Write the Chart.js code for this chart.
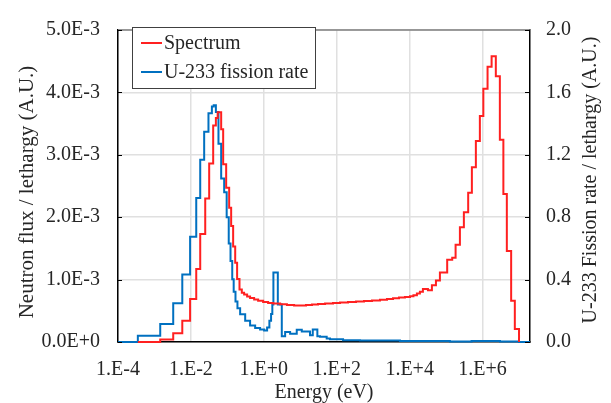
<!DOCTYPE html>
<html>
<head>
<meta charset="utf-8">
<script src="https://cdn.jsdelivr.net/npm/chart.js@4.4.1/dist/chart.umd.min.js"></script>
<style>
  html, body { margin: 0; padding: 0; background: #fff; }
  canvas { display: block; }
</style>
</head>
<body>
<canvas id="chart" width="611" height="403"></canvas>
<script>
// energy bin lower edges (eV) and neutron flux per lethargy
const spectrumEnergy = [
  3.5e-4, 1.44e-3, 3.27e-3, 5.8e-3, 9.5e-3, 1.4e-2, 1.8e-2, 2.47e-2, 3.17e-2, 4.08e-2,
  4.84e-2, 5.42e-2, 6.76e-2, 7.67e-2, 9.27e-2, 0.112, 0.127, 0.144, 0.164, 0.185,
  0.215, 0.249, 0.288, 0.348, 0.42, 0.542, 0.698, 0.957, 1.31, 1.8,
  2.8, 4.3, 6.76, 9.9, 14.4, 21, 30.7, 47.8, 79, 123,
  204, 338, 560, 927, 1535, 2388, 3500, 5090, 7430, 1.02e4,
  1.27e4, 1.58e4, 1.91e4, 2.31e4, 3.17e4, 4.08e4, 5.26e4, 6.76e4, 1.07e5, 1.47e5,
  1.82e5, 2.39e5, 3.07e5, 4.03e5, 5.09e5, 6.55e5, 8.43e5, 1.05e6, 1.37e6, 1.77e6,
  2.31e6, 2.98e6, 3.72e6, 4.63e6, 6.08e6, 7.67e6, 1.0e7
];
const spectrumFlux = [
  0, 0.04e-3, 0.14e-3, 0.34e-3, 0.69e-3, 1.17e-3, 1.73e-3, 2.30e-3, 2.86e-3, 3.47e-3,
  3.59e-3, 3.68e-3, 3.41e-3, 2.85e-3, 2.47e-3, 2.15e-3, 1.86e-3, 1.53e-3, 1.27e-3, 1.01e-3,
  0.84e-3, 0.79e-3, 0.76e-3, 0.73e-3, 0.705e-3, 0.68e-3, 0.66e-3, 0.642e-3, 0.627e-3, 0.615e-3,
  0.604e-3, 0.593e-3, 0.585e-3, 0.584e-3, 0.591e-3, 0.600e-3, 0.608e-3, 0.616e-3, 0.627e-3, 0.635e-3,
  0.642e-3, 0.650e-3, 0.658e-3, 0.666e-3, 0.678e-3, 0.689e-3, 0.700e-3, 0.712e-3, 0.723e-3, 0.735e-3,
  0.751e-3, 0.779e-3, 0.805e-3, 0.851e-3, 0.831e-3, 0.909e-3, 0.986e-3, 1.115e-3, 1.32e-3, 1.35e-3,
  1.56e-3, 1.84e-3, 2.08e-3, 2.39e-3, 2.80e-3, 3.22e-3, 3.62e-3, 4.06e-3, 4.41e-3, 4.58e-3,
  4.26e-3, 3.24e-3, 2.37e-3, 1.46e-3, 0.66e-3, 0.21e-3, 0
];

// energy bin lower edges (eV) and U-233 fission rate per lethargy
const fissionEnergy = [
  1e-4, 3.5e-4, 1.44e-3, 3.27e-3, 5.8e-3, 9.5e-3, 1.4e-2, 1.8e-2, 2.31e-2, 3.03e-2,
  3.76e-2, 4.22e-2, 4.84e-2, 5.70e-2, 6.76e-2, 8.17e-2, 9.57e-2, 0.109, 0.122, 0.136,
  0.149, 0.167, 0.189, 0.224, 0.308, 0.42, 0.578, 0.79, 1.02, 1.23,
  1.42, 1.58, 1.71, 1.83, 2.42, 3.11, 3.84, 5.26, 8.0, 11.0,
  18.5, 22, 29.4, 34.8, 53, 65.5, 149, 435, 5420, 1.27e5,
  5e5, 3e6, 1e7, 2e7
];
const fissionRate = [
  0, 0.040, 0.116, 0.248, 0.433, 0.675, 0.923, 1.168, 1.348, 1.467,
  1.509, 1.517, 1.474, 1.271, 1.048, 0.960, 0.799, 0.632, 0.520, 0.402,
  0.322, 0.260, 0.217, 0.178, 0.136, 0.105, 0.090, 0.080, 0.074, 0.093,
  0.136, 0.180, 0.240, 0.446, 0.240, 0.037, 0.064, 0.053, 0.079, 0.068,
  0.043, 0.080, 0.037, 0.033, 0.023, 0.017, 0.012, 0.009, 0.006, 0.004,
  0.006, 0.003, 0, 0
];

const energyTicks = [1e-4, 1e-2, 1e0, 1e2, 1e4, 1e6];
const fluxTicks = [0, 1e-3, 2e-3, 3e-3, 4e-3, 5e-3];
const rateTicks = [0, 0.4, 0.8, 1.2, 1.6, 2.0];

const fluxTitle = 'Neutron flux / lethargy (A.U.)';
const rateTitle = 'U-233 Fission rate / lethargy (A.U.)';

const toPoints = (xs, ys) => xs.map((x, i) => ({ x: x, y: ys[i] }));

const GRID = '#e0e0e0';
const TEXT = '#262626';
const FONT = '"Liberation Serif", "Times New Roman", serif';

Chart.defaults.font.family = FONT;
Chart.defaults.font.size = 20;
Chart.defaults.color = TEXT;

// frame top, inward tick marks, vertical axis titles and the boxed legend
const frameAndLegend = {
    id: 'frameAndLegend',
    afterDraw(chart) {
        const { ctx, chartArea } = chart;
        const y = chart.scales.y;
        ctx.save();
        ctx.strokeStyle = '#7f7f7f';
        ctx.lineWidth = 1.5;
        ctx.beginPath();
        ctx.moveTo(chartArea.left, chartArea.top);
        ctx.lineTo(chartArea.right, chartArea.top);
        ctx.stroke();

        ctx.strokeStyle = '#000';
        ctx.lineWidth = 1.2;
        fluxTicks.forEach(v => {
            const py = Math.round(y.getPixelForValue(v)) + 0.5;
            ctx.beginPath();
            ctx.moveTo(chartArea.left, py);
            ctx.lineTo(chartArea.left + 4, py);
            ctx.moveTo(chartArea.right - 5, py);
            ctx.lineTo(chartArea.right, py);
            ctx.stroke();
        });

        // both axis titles read bottom to top
        ctx.fillStyle = TEXT;
        ctx.textAlign = 'center';
        ctx.textBaseline = 'middle';
        ctx.font = '21px ' + FONT;
        ctx.save();
        ctx.translate(27, 192);
        ctx.rotate(-Math.PI / 2);
        ctx.fillText(fluxTitle, 0, 0);
        ctx.restore();
        ctx.font = '20px ' + FONT;
        ctx.save();
        ctx.translate(591, 180);
        ctx.rotate(-Math.PI / 2);
        ctx.fillText(rateTitle, 0, 0);
        ctx.restore();

        ctx.textAlign = 'left';
        ctx.fillStyle = '#fff';
        ctx.fillRect(132, 27, 183, 61);
        ctx.strokeStyle = '#404040';
        ctx.lineWidth = 1;
        ctx.strokeRect(132.5, 27.5, 183, 61);
        ctx.font = '20px ' + FONT;
        chart.data.datasets.forEach((ds, i) => {
            const ly = 43 + i * 29;
            ctx.strokeStyle = ds.borderColor;
            ctx.lineWidth = 2;
            ctx.beginPath();
            ctx.moveTo(141, ly);
            ctx.lineTo(162, ly);
            ctx.stroke();
            ctx.fillStyle = TEXT;
            ctx.fillText(ds.label, 164, ly + 1);
        });
        ctx.restore();
    }
};

new Chart(document.getElementById('chart'), {
    type: 'line',
    data: {
        datasets: [
            {
                label: 'Spectrum',
                data: toPoints(spectrumEnergy, spectrumFlux),
                yAxisID: 'y',
                borderColor: '#ff2020',
                borderWidth: 2,
                pointRadius: 0,
                stepped: true,
                clip: 3
            },
            {
                label: 'U-233 fission rate',
                data: toPoints(fissionEnergy, fissionRate),
                yAxisID: 'y1',
                borderColor: '#0070c0',
                borderWidth: 2,
                pointRadius: 0,
                stepped: true,
                clip: 3
            }
        ]
    },
    options: {
        responsive: false,
        animation: false,
        layout: { padding: { top: 19, left: 0, right: 0, bottom: 0 } },
        plugins: {
            legend: { display: false },
            tooltip: { enabled: false }
        },
        scales: {
            x: {
                type: 'logarithmic',
                min: 1e-4,
                max: 2e7,
                afterBuildTicks: s => { s.ticks = energyTicks.map(v => ({ value: v })); },
                afterFit: s => { s.height = 61; },
                ticks: {
                    autoSkip: false,
                    maxRotation: 0,
                    padding: 16,
                    callback: v => {
                        const p = Math.round(Math.log10(v));
                        return '1.E' + (p < 0 ? '-' : '+') + Math.abs(p);
                    }
                },
                grid: { color: GRID, lineWidth: 1.5, drawTicks: false },
                border: { color: '#000', width: 1.5 },
                title: { display: true, text: 'Energy (eV)', padding: 0, font: { lineHeight: 1.0 } }
            },
            y: {
                position: 'left',
                min: 0,
                max: 5e-3,
                afterBuildTicks: s => { s.ticks = fluxTicks.map(v => ({ value: v })); },
                afterFit: s => { s.width = 118; },
                ticks: {
                    padding: 18,
                    callback: v => v === 0 ? '0.0E+0' : (v * 1e3).toFixed(1) + 'E-3'
                },
                grid: { color: GRID, lineWidth: 1.5, drawTicks: false },
                border: { color: '#000', width: 1.5 }
            },
            y1: {
                position: 'right',
                min: 0,
                max: 2,
                afterBuildTicks: s => { s.ticks = rateTicks.map(v => ({ value: v })); },
                afterFit: s => { s.width = 81; },
                ticks: {
                    padding: 16,
                    callback: v => v.toFixed(1)
                },
                grid: { drawOnChartArea: false, drawTicks: false },
                border: { color: '#000', width: 1.5 }
            }
        }
    },
    plugins: [frameAndLegend]
});
</script>
</body>
</html>
